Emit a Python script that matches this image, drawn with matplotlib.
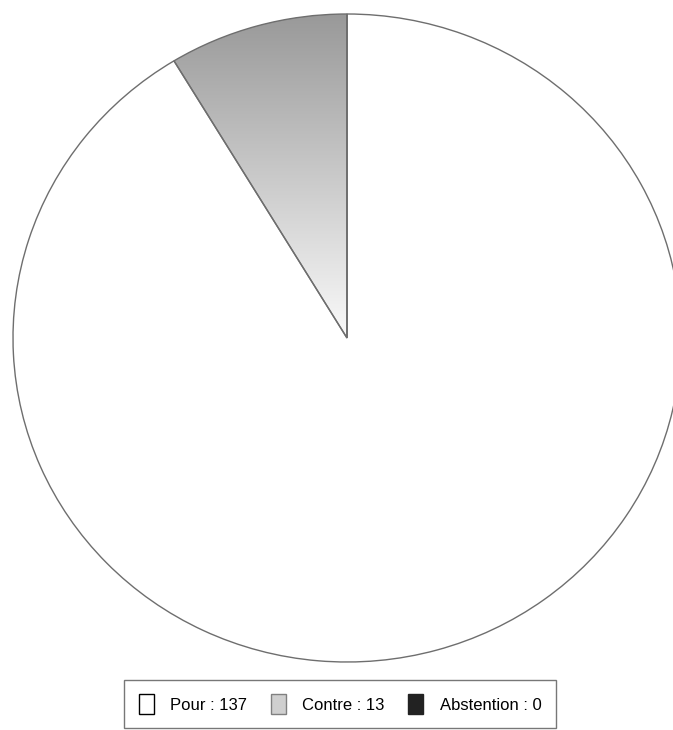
import numpy as np
import matplotlib.pyplot as plt
from matplotlib.patches import Patch

# vote results
labels = ['Pour', 'Contre', 'Abstention']
votes = [137, 13, 0]
legend_labels = [f'{l} : {v}' for l, v in zip(labels, votes)]

plt.rcParams['font.family'] = ['Liberation Sans', 'DejaVu Sans']

fig = plt.figure(figsize=(6.73, 7.30), dpi=100)
# pie is slightly wider than tall and runs past the right edge
ax = fig.add_axes([13/673, 68/730, 668/673, 648/730])

wedges, _ = ax.pie(votes, startangle=90, counterclock=False,
                   colors=['white', 'none', '#222222'],
                   wedgeprops=dict(edgecolor='#6e6e6e', linewidth=1.0))
ax.set_aspect('auto')

# gradient fill for the "Contre" slice (grey at rim, white at centre)
yy = np.linspace(1.0, 0.0, 256)
shade = 0.60 + 0.38 * (1 - yy)
grad = np.repeat(shade.reshape(-1, 1), 2, axis=1)
rgb = np.dstack([grad, grad, grad])
img = ax.imshow(rgb, extent=(-1, 1, 0, 1), aspect='auto', origin='upper', zorder=0.5)
img.set_clip_path(wedges[1])
wedges[1].set_zorder(1)
ax.set_xlim(-1, 1)
ax.set_ylim(-1, 1)
ax.axis('off')

handles = [Patch(facecolor='white', edgecolor='black', linewidth=1),
           Patch(facecolor='#cfcfcf', edgecolor='#808080', linewidth=1),
           Patch(facecolor='#222222', edgecolor='#222222', linewidth=1)]
leg = fig.legend(handles, legend_labels, loc='center', ncol=3,
                 bbox_to_anchor=(340/673, 1 - 704/730), fontsize=12,
                 frameon=True, fancybox=False, edgecolor='#555555',
                 handlelength=0.9, handleheight=1.4, handletextpad=1.0,
                 columnspacing=1.4, borderpad=0.85)
leg.get_frame().set_linewidth(1.0)

fig.savefig('out.png', dpi=100)
